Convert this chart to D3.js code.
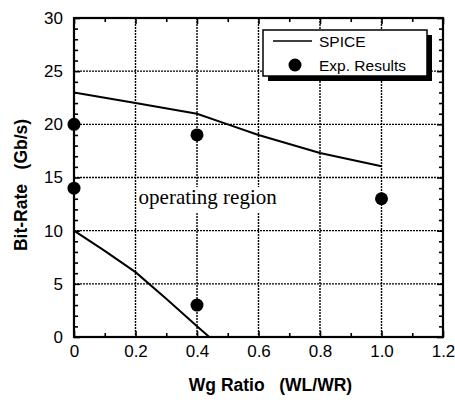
<!DOCTYPE html>
<html><head><meta charset="utf-8">
<script src="https://cdn.jsdelivr.net/npm/d3@7"></script>
<style>body{margin:0;background:#fff}svg{display:block}</style>
</head><body>
<svg id="c" width="455" height="404"></svg>
<script>
const xTicks = [0, 0.2, 0.4, 0.6, 0.8, 1.0, 1.2];
const xTickLabels = ["0", "0.2", "0.4", "0.6", "0.8", "1.0", "1.2"];
const yTicks = [0, 5, 10, 15, 20, 25, 30];
const xMinor = [0.1, 0.3, 0.5, 0.7, 0.9, 1.1];
const yMinor = [1,2,3,4,6,7,8,9,11,12,13,14,16,17,18,19,21,22,23,24,26,27,28,29];
const spiceUpperX = [0, 0.2, 0.4, 0.5, 0.6, 0.8, 1.0];
const spiceUpperY = [23, 22, 21, 20, 19, 17.3, 16.05];
const spiceLowerX = [0, 0.1, 0.2, 0.3, 0.4, 0.44];
const spiceLowerY = [10, 8.1, 6.1, 3.6, 1.0, 0];
const expX = [0, 0, 0.4, 0.4, 1.0];
const expY = [20, 14, 19, 3, 13];

const svg = d3.select("#c");
const L = 74, R = 443, T = 18, B = 337;
const x = d3.scaleLinear().domain([0, 1.2]).range([L, R]);
const y = d3.scaleLinear().domain([0, 30]).range([B, T]);
const FONT = "'Liberation Sans', Arial, Helvetica, sans-serif";

// grid
const grid = svg.append("g").attr("stroke", "#000").attr("stroke-width", 1.4).attr("stroke-dasharray", "2,1");
grid.selectAll(".gx").data(xTicks.slice(1, -1)).join("line")
  .attr("x1", d => x(d)).attr("x2", d => x(d)).attr("y1", T).attr("y2", B);
grid.selectAll(".gy").data(yTicks.slice(1, -1)).join("line")
  .attr("y1", d => y(d)).attr("y2", d => y(d)).attr("x1", L).attr("x2", R);

// operating region label with white background
const opX = x(0.21), opY = y(12.5);
svg.append("rect").attr("x", opX - 1).attr("y", opY - 17).attr("width", 152).attr("height", 26).attr("fill", "#fff");
svg.append("text").attr("x", opX).attr("y", opY)
  .attr("font-family", "'Liberation Serif', 'Times New Roman', serif").attr("font-size", 21)
  .text("operating region");

// SPICE lines
const line = d3.line().x(d => x(d[0])).y(d => y(d[1]));
svg.append("path").datum(d3.zip(spiceUpperX, spiceUpperY)).attr("d", line)
  .attr("fill", "none").attr("stroke", "#000").attr("stroke-width", 2);
svg.append("path").datum(d3.zip(spiceLowerX, spiceLowerY)).attr("d", line)
  .attr("fill", "none").attr("stroke", "#000").attr("stroke-width", 2);

// axes
function styleAxis(g) {
  g.select(".domain").remove();
  g.selectAll("line").attr("stroke", "#000").attr("stroke-width", 1.6);
  g.selectAll("text").attr("font-family", FONT).attr("font-size", 17).attr("fill", "#000");
}
svg.append("g").attr("transform", `translate(0,${B})`)
  .call(d3.axisBottom(x).tickValues(xTicks).tickFormat((d, i) => xTickLabels[i]).tickSizeInner(-6).tickSizeOuter(0).tickPadding(8)).call(styleAxis);
svg.append("g").attr("transform", `translate(0,${B})`)
  .call(d3.axisBottom(x).tickValues(xMinor).tickFormat("").tickSizeInner(-4).tickSizeOuter(0)).call(styleAxis);
svg.append("g").attr("transform", `translate(0,${T})`)
  .call(d3.axisTop(x).tickValues(xTicks).tickFormat("").tickSizeInner(-6).tickSizeOuter(0)).call(styleAxis);
svg.append("g").attr("transform", `translate(0,${T})`)
  .call(d3.axisTop(x).tickValues(xMinor).tickFormat("").tickSizeInner(-4).tickSizeOuter(0)).call(styleAxis);
svg.append("g").attr("transform", `translate(${L},0)`)
  .call(d3.axisLeft(y).tickValues(yTicks).tickSizeInner(-6).tickSizeOuter(0).tickPadding(11)).call(styleAxis);
svg.append("g").attr("transform", `translate(${L},0)`)
  .call(d3.axisLeft(y).tickValues(yMinor).tickFormat("").tickSizeInner(-4).tickSizeOuter(0)).call(styleAxis);
svg.append("g").attr("transform", `translate(${R},0)`)
  .call(d3.axisRight(y).tickValues(yTicks).tickFormat("").tickSizeInner(-6).tickSizeOuter(0)).call(styleAxis);
svg.append("g").attr("transform", `translate(${R},0)`)
  .call(d3.axisRight(y).tickValues(yMinor).tickFormat("").tickSizeInner(-4).tickSizeOuter(0)).call(styleAxis);

// frame
svg.append("rect").attr("x", L).attr("y", T).attr("width", R - L).attr("height", B - T)
  .attr("fill", "none").attr("stroke", "#000").attr("stroke-width", 2.2);

// experimental points
svg.selectAll(".pt").data(d3.zip(expX, expY)).join("circle")
  .attr("cx", d => x(d[0])).attr("cy", d => y(d[1])).attr("r", 6.5).attr("fill", "#000");

// legend
const lg = svg.append("g");
lg.append("rect").attr("x", 268).attr("y", 35).attr("width", 164).attr("height", 46).attr("fill", "#000");
lg.append("rect").attr("x", 263).attr("y", 30).attr("width", 164).attr("height", 46).attr("fill", "#fff").attr("stroke", "#000").attr("stroke-width", 1.5);
lg.append("line").attr("x1", 273).attr("x2", 312).attr("y1", 41).attr("y2", 41).attr("stroke", "#000").attr("stroke-width", 1.5);
lg.append("text").attr("x", 319).attr("y", 47).attr("font-family", FONT).attr("font-size", 15.5).text("SPICE");
lg.append("circle").attr("cx", 295).attr("cy", 65).attr("r", 6.5).attr("fill", "#000");
lg.append("text").attr("x", 319).attr("y", 71).attr("font-family", FONT).attr("font-size", 15.5).text("Exp. Results");

// axis titles
svg.append("text").attr("x", (L + R) / 2 + 12).attr("y", 391).attr("text-anchor", "middle")
  .attr("font-family", FONT).attr("font-size", 17.5).attr("font-weight", "bold")
  .style("white-space", "pre")
  .text("Wg Ratio   (WL/WR)");
svg.append("text").attr("transform", `translate(27,185) rotate(-90)`).attr("text-anchor", "middle")
  .attr("font-family", FONT).attr("font-size", 17.5).attr("font-weight", "bold")
  .style("white-space", "pre")
  .text("Bit-Rate   (Gb/s)");
</script>
</body></html>
